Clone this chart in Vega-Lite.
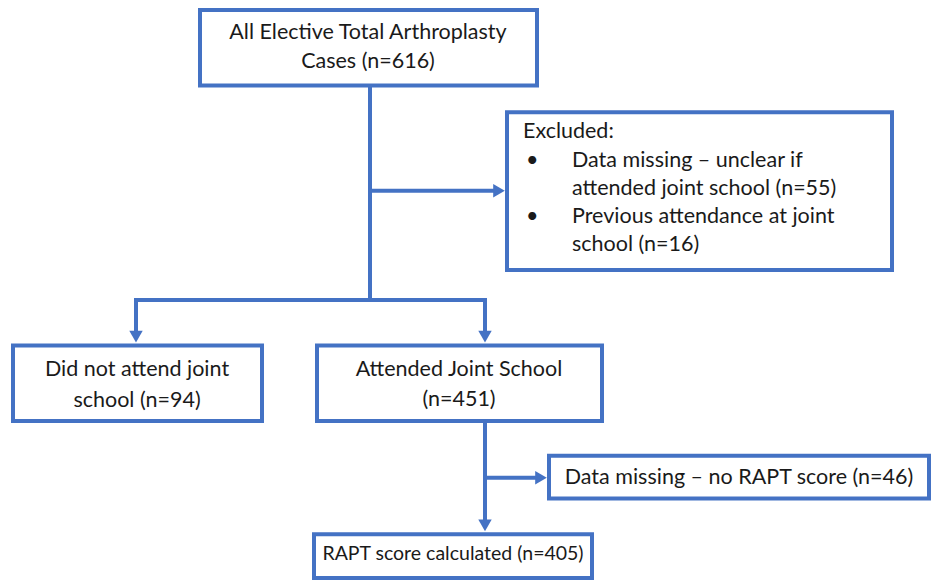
{
  "$schema": "https://vega.github.io/schema/vega-lite/v6.json",
  "autosize": {"type": "fit", "contains": "padding"},
  "width": 934,
  "height": 580,
  "padding": 0,
  "background": "white",
  "config": {"view": {"stroke": null}},
  "datasets": {
    "boxes": [
      {"id": "all", "x": 200, "x2": 537, "y": 10, "y2": 86},
      {"id": "excluded", "x": 507, "x2": 892, "y": 113, "y2": 272},
      {"id": "notattend", "x": 13, "x2": 262, "y": 348, "y2": 424},
      {"id": "attend", "x": 317, "x2": 602, "y": 348, "y2": 424},
      {"id": "missing", "x": 549, "x2": 929, "y": 459, "y2": 502},
      {"id": "rapt", "x": 314, "x2": 592, "y": 538, "y2": 582}
    ],
    "lines": [
      {"x": 370, "x2": 370, "y": 86, "y2": 303},
      {"x": 370, "x2": 494, "y": 192, "y2": 192},
      {"x": 134, "x2": 487, "y": 302, "y2": 302},
      {"x": 136, "x2": 136, "y": 302, "y2": 334},
      {"x": 485, "x2": 485, "y": 302, "y2": 334},
      {"x": 485, "x2": 485, "y": 424, "y2": 524},
      {"x": 485, "x2": 536, "y": 481, "y2": 481}
    ],
    "arrows": [
      {"x": 499, "y": 192, "dir": "triangle-right"},
      {"x": 136, "y": 339, "dir": "triangle-down"},
      {"x": 485, "y": 339, "dir": "triangle-down"},
      {"x": 541, "y": 481, "dir": "triangle-right"},
      {"x": 485, "y": 529, "dir": "triangle-down"}
    ],
    "labels": [
      {"box": "all", "x": 368, "y": 33, "text": "All Elective Total Arthroplasty", "align": "center"},
      {"box": "all", "x": 368, "y": 62, "text": "Cases (n=616)", "align": "center"},
      {"box": "excluded", "x": 523, "y": 133, "text": "Excluded:", "align": "left"},
      {"box": "excluded", "x": 526, "y": 162, "text": "•", "align": "left"},
      {"box": "excluded", "x": 572, "y": 162, "text": "Data missing – unclear if", "align": "left"},
      {"box": "excluded", "x": 572, "y": 190, "text": "attended joint school (n=55)", "align": "left"},
      {"box": "excluded", "x": 526, "y": 219, "text": "•", "align": "left"},
      {"box": "excluded", "x": 572, "y": 219, "text": "Previous attendance at joint", "align": "left"},
      {"box": "excluded", "x": 572, "y": 247, "text": "school (n=16)", "align": "left"},
      {"box": "notattend", "x": 137, "y": 373, "text": "Did not attend joint", "align": "center"},
      {"box": "notattend", "x": 137, "y": 404, "text": "school (n=94)", "align": "center"},
      {"box": "attend", "x": 459, "y": 373, "text": "Attended Joint School", "align": "center"},
      {"box": "attend", "x": 459, "y": 403, "text": "(n=451)", "align": "center"},
      {"box": "missing", "x": 739, "y": 481, "text": "Data missing – no RAPT score (n=46)", "align": "center"},
      {"box": "rapt", "x": 453, "y": 558, "text": "RAPT score calculated (n=405)", "align": "center"}
    ]
  },
  "layer": [
    {
      "data": {"name": "lines"},
      "mark": {"type": "rule", "stroke": "#4472C4", "strokeWidth": 4},
      "encoding": {
        "x": {"field": "x", "type": "quantitative", "scale": {"domain": [0, 934], "nice": false, "zero": false}, "axis": null},
        "x2": {"field": "x2"},
        "y": {"field": "y", "type": "quantitative", "scale": {"domain": [0, 580], "reverse": true, "nice": false, "zero": false}, "axis": null},
        "y2": {"field": "y2"}
      }
    },
    {
      "data": {"name": "boxes"},
      "mark": {"type": "rect", "fill": "white", "stroke": "#4472C4", "strokeWidth": 4},
      "encoding": {
        "x": {"field": "x", "type": "quantitative"},
        "x2": {"field": "x2"},
        "y": {"field": "y", "type": "quantitative"},
        "y2": {"field": "y2"}
      }
    },
    {
      "data": {"name": "arrows"},
      "mark": {"type": "point", "filled": true, "color": "#4472C4", "size": 180, "opacity": 1},
      "encoding": {
        "x": {"field": "x", "type": "quantitative"},
        "y": {"field": "y", "type": "quantitative"},
        "shape": {"field": "dir", "type": "nominal", "scale": null, "legend": null}
      }
    },
    {
      "data": {"name": "labels"},
      "transform": [{"filter": "datum.align === 'center' && datum.box !== 'rapt'"}],
      "mark": {"type": "text", "align": "center", "baseline": "middle", "font": "Lato", "fontSize": 21.5, "color": "#1a1a1a"},
      "encoding": {
        "x": {"field": "x", "type": "quantitative"},
        "y": {"field": "y", "type": "quantitative"},
        "text": {"field": "text"}
      }
    },
    {
      "data": {"name": "labels"},
      "transform": [{"filter": "datum.box === 'rapt'"}],
      "mark": {"type": "text", "align": "center", "baseline": "middle", "font": "Lato", "fontSize": 19.5, "color": "#1a1a1a"},
      "encoding": {
        "x": {"field": "x", "type": "quantitative"},
        "y": {"field": "y", "type": "quantitative"},
        "text": {"field": "text"}
      }
    },
    {
      "data": {"name": "labels"},
      "transform": [{"filter": "datum.align === 'left'"}],
      "mark": {"type": "text", "align": "left", "baseline": "middle", "font": "Lato", "fontSize": 21.5, "color": "#1a1a1a"},
      "encoding": {
        "x": {"field": "x", "type": "quantitative"},
        "y": {"field": "y", "type": "quantitative"},
        "text": {"field": "text"}
      }
    }
  ]
}
